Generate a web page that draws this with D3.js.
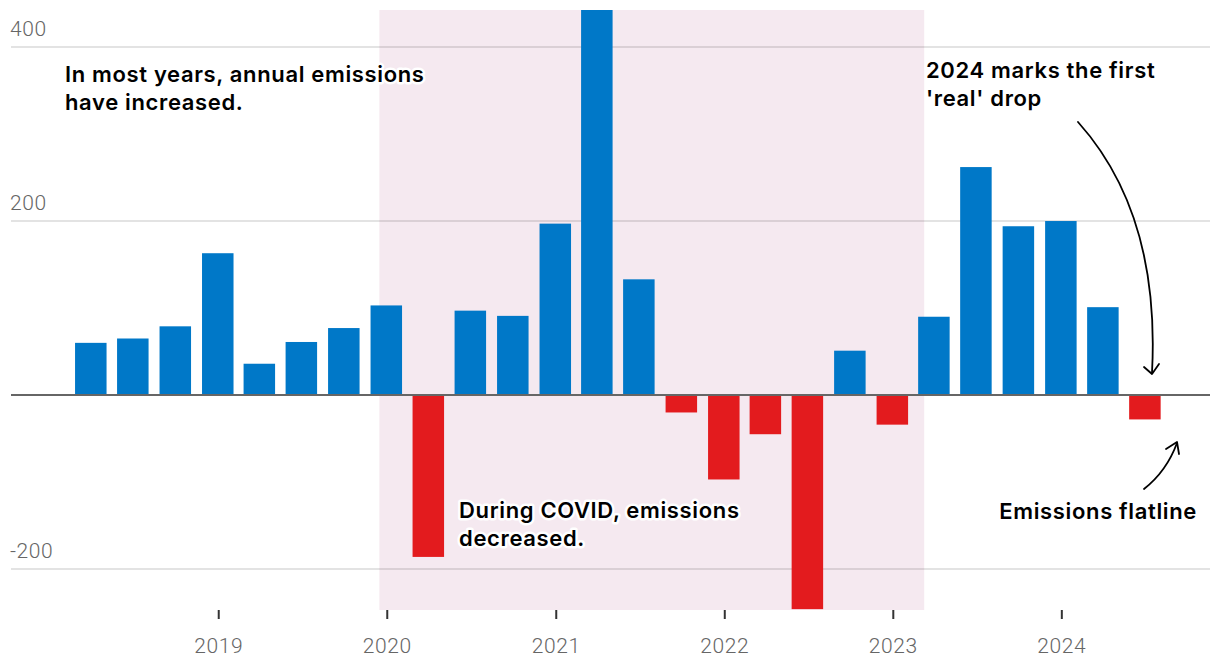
<!DOCTYPE html>
<html><head><meta charset="utf-8">
<script src="https://cdn.jsdelivr.net/npm/d3@7"></script>
<style>
body{margin:0;background:#fff;}
svg{display:block;}
</style></head>
<body><svg id="chart" width="1220" height="672"></svg>
<script>
// Data: quarterly change in emissions (quarter-end dates)
const quarters = ["2018-03-31","2018-06-30","2018-09-30","2018-12-31","2019-03-31","2019-06-30","2019-09-30","2019-12-31","2020-03-31","2020-06-30","2020-09-30","2020-12-31","2021-03-31","2021-06-30","2021-09-30","2021-12-31","2022-03-31","2022-06-30","2022-09-30","2022-12-31","2023-03-31","2023-06-30","2023-09-30","2023-12-31","2024-03-31","2024-06-30"];
const changes = [60,65,79,163,36,61,77,103,-186,97,91,197,443,133,-20,-97,-45,-246,51,-34,90,262,194,200,101,-28];
const yTicks = [-200,0,200,400];
const xTickYears = [2019,2020,2021,2022,2023,2024];
const shadeRange = ["2019-12-16","2023-03-10"];
const annotations = [
  {lines:["In most years, annual emissions","have increased."], x:65, y:82, anchor:"start"},
  {lines:["2024 marks the first","'real' drop"], x:926, y:78, anchor:"start"},
  {lines:["During COVID, emissions","decreased."], x:459, y:518, anchor:"start"},
  {lines:["Emissions flatline"], x:1197, y:519, anchor:"end"}
];

const svg = d3.select("#chart");
const parse = d3.timeParse("%Y-%m-%d");
const x = d3.scaleTime()
  .domain([parse("2017-10-07"), parse("2024-11-18")])
  .range([10, 1210]);
const y = d3.scaleLinear().domain([-247, 442.5]).range([610, 10]);
const barW = 31.5;

svg.append("defs").append("clipPath").attr("id","clip")
  .append("rect").attr("x",0).attr("y",10).attr("width",1220).attr("height",600);

// shaded period
svg.append("rect")
  .attr("x", x(parse(shadeRange[0])))
  .attr("y", 10)
  .attr("width", x(parse(shadeRange[1])) - x(parse(shadeRange[0])))
  .attr("height", 600)
  .attr("fill", "#f5e9f0");

// gridlines
const grid = svg.append("g");
grid.selectAll("line").data(yTicks.filter(d=>d!==0)).join("line")
  .attr("x1",11).attr("x2",1210)
  .attr("y1",d=>y(d)).attr("y2",d=>y(d))
  .attr("stroke","#000").attr("stroke-opacity",0.15).attr("stroke-width",1.5);
grid.selectAll("text").data(yTicks.filter(d=>d!==0)).join("text")
  .attr("x",10).attr("y",d=>y(d)-11)
  .attr("font-family","Roboto, 'Noto Sans', sans-serif")
  .attr("font-weight",300)
  .attr("font-size",21).attr("letter-spacing",0.6).attr("fill","#666")
  .text(d=>d);

// bars
svg.append("g").attr("clip-path","url(#clip)")
  .selectAll("rect").data(quarters.map((q,i)=>({date:parse(q), v:changes[i]}))).join("rect")
  .attr("x", d=>x(d.date)-barW/2)
  .attr("width", barW)
  .attr("y", d=>y(Math.max(0,d.v)))
  .attr("height", d=>Math.abs(y(d.v)-y(0)))
  .attr("fill", d=>d.v>=0 ? "#0078c8" : "#e31b1e");

// zero line
svg.append("line").attr("x1",11).attr("x2",1210).attr("y1",y(0)).attr("y2",y(0))
  .attr("stroke","#666").attr("stroke-width",2);

// x axis
const xAxis = d3.axisBottom(x)
  .tickValues(xTickYears.map(yr=>new Date(yr,0,1)))
  .tickFormat(d3.timeFormat("%Y"))
  .tickSize(9).tickPadding(19);
const gx = svg.append("g").attr("transform","translate(0,610)").call(xAxis);
gx.select(".domain").remove();
gx.selectAll(".tick line").attr("stroke","#333").attr("stroke-width",2);
gx.selectAll(".tick text").attr("font-family","Roboto, 'Noto Sans', sans-serif")
  .attr("font-weight",300).attr("font-size",21).attr("letter-spacing",0.6).attr("fill","#666");

// annotations
const ann = svg.append("g");
annotations.forEach(a=>{
  const t = ann.append("text")
    .attr("x",a.x).attr("y",a.y)
    .attr("text-anchor",a.anchor)
    .attr("font-family","Inter, 'Noto Sans', sans-serif")
    .attr("font-weight",600).attr("font-size",22)
    .attr("letter-spacing",0.65)
    .attr("fill","#000")
    .attr("stroke","#fff").attr("stroke-width",5).attr("stroke-linejoin","round")
    .attr("paint-order","stroke");
  a.lines.forEach((l,i)=>{
    t.append("tspan").attr("x",a.x).attr("dy", i===0?0:28).text(l);
  });
});

// arrows
const arr = svg.append("g").attr("fill","none").attr("stroke","#000").attr("stroke-width",1.8)
  .attr("stroke-linecap","round").attr("stroke-linejoin","round");
arr.append("path").attr("d","M1078,122 C1130,180 1158,260 1152,373");
arr.append("path").attr("d","M1144,367 L1152,374 L1159,364");
arr.append("path").attr("d","M1144,489 C1158,478 1170,462 1177,443");
arr.append("path").attr("d","M1166,449 L1177,442 L1179,454");
</script>
</body></html>
